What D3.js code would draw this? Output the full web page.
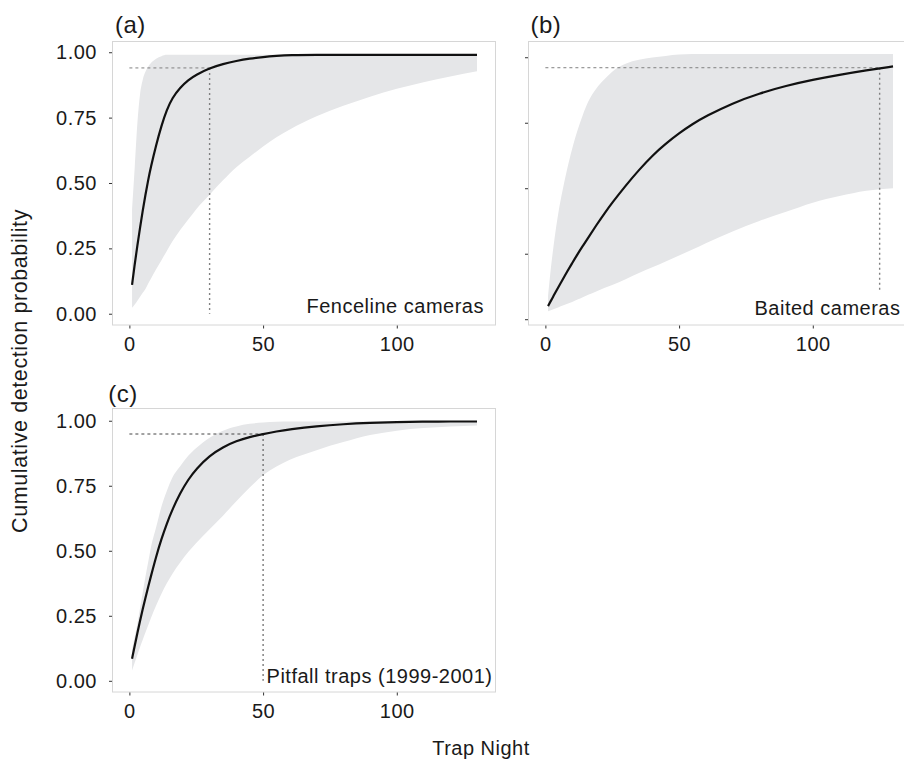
<!DOCTYPE html>
<html><head><meta charset="utf-8">
<script src="https://cdn.jsdelivr.net/npm/d3@7"></script>
<style>
body{margin:0;background:#fff}
svg{display:block;font-family:"Liberation Sans",Arial,Helvetica,sans-serif}
</style>
</head><body><div id="chart"></div>
<script>
// ---------------- data ----------------
const trapNights = [1,2,3,4,5,6,7,8,10,12,14,16,19,22,25,30,35,40,45,50,55,60,70,80,90,100,110,120,130];

const fencelineMean  = [0.11,0.19,0.262,0.33,0.395,0.455,0.51,0.56,0.645,0.72,0.78,0.825,0.865,0.894,0.914,0.939,0.955,0.967,0.976,0.982,0.986,0.989,0.99,0.99,0.99,0.99,0.99,0.99,0.99];
const fencelineLower = [0.023,0.035,0.05,0.065,0.08,0.095,0.115,0.133,0.17,0.205,0.24,0.275,0.32,0.36,0.40,0.455,0.51,0.56,0.60,0.64,0.675,0.705,0.755,0.795,0.83,0.86,0.885,0.907,0.927];
const fencelineUpper = [0.40,0.56,0.73,0.84,0.895,0.925,0.945,0.958,0.975,0.985,0.99,0.99,0.99,0.99,0.99,0.99,0.99,0.99,0.99,0.99,0.99,0.99,0.99,0.99,0.99,0.99,0.99,0.99,0.99];

const baitedMean  = [0.05,0.069,0.088,0.107,0.125,0.143,0.161,0.179,0.214,0.248,0.28,0.311,0.358,0.403,0.445,0.51,0.57,0.625,0.67,0.71,0.745,0.775,0.825,0.862,0.891,0.914,0.933,0.95,0.965];
const baitedLower = [0.03,0.034,0.038,0.042,0.046,0.05,0.054,0.058,0.066,0.075,0.084,0.093,0.106,0.119,0.131,0.153,0.176,0.198,0.22,0.243,0.266,0.29,0.335,0.375,0.41,0.445,0.47,0.49,0.50];
const baitedUpper = [0.09,0.19,0.275,0.35,0.415,0.47,0.52,0.567,0.65,0.72,0.78,0.83,0.88,0.915,0.945,0.975,0.99,0.999,1.005,1.01,1.012,1.012,1.012,1.012,1.012,1.012,1.012,1.012,1.012];

const pitfallMean  = [0.085,0.135,0.184,0.231,0.276,0.319,0.36,0.40,0.478,0.546,0.605,0.657,0.722,0.774,0.815,0.866,0.899,0.922,0.938,0.949,0.959,0.967,0.979,0.987,0.992,0.995,0.997,0.997,0.997];
const pitfallLower = [0.04,0.07,0.10,0.13,0.158,0.186,0.213,0.24,0.29,0.335,0.375,0.41,0.455,0.495,0.53,0.583,0.635,0.69,0.743,0.79,0.824,0.85,0.887,0.918,0.945,0.962,0.972,0.978,0.982];
const pitfallUpper = [0.12,0.17,0.22,0.28,0.34,0.40,0.455,0.51,0.59,0.67,0.73,0.78,0.825,0.865,0.895,0.935,0.962,0.978,0.988,0.993,0.996,0.997,0.997,0.997,0.997,0.997,0.997,0.997,0.997];

const panelTags   = ["(a)","(b)","(c)"];
const methodNames = ["Fenceline cameras","Baited cameras","Pitfall traps (1999-2001)"];
const detectionThreshold = [0.94, 0.96, 0.949];
const nightsToThreshold  = [30, 125, 50];
const xTicks = [0, 50, 100];
const yTicks = [0, 0.25, 0.5, 0.75, 1];
const yTickLabels = ["0.00","0.25","0.50","0.75","1.00"];
const xTitle = "Trap Night";
const yTitle = "Cumulative detection probability";

// ---------------- layout ----------------
const W = 904, H = 760;
const PW = 384, PH = 284.5;
const xDomain = [-6.5, 137.1];
const layout = [
  {left:112, top:41,  yDomain:[-0.045,1.043], yLabels:true,  tagX:115,   tagY:33,
   labelAnchor:"end",   labelX:132.6, labelDy:-12.5},
  {left:528, top:41,  yDomain:[-0.024,1.062], yLabels:false, tagX:530.5, tagY:33,
   labelAnchor:"end",   labelX:132.8, labelDy:-11},
  {left:112, top:408, yDomain:[-0.045,1.049], yLabels:true,  tagX:108.3, tagY:401.7,
   labelAnchor:"start", labelX:51.3,  labelDy:-9.2}
];
const series = [
  {mean:fencelineMean, lower:fencelineLower, upper:fencelineUpper},
  {mean:baitedMean,    lower:baitedLower,    upper:baitedUpper},
  {mean:pitfallMean,   lower:pitfallLower,   upper:pitfallUpper}
];

const svg = d3.select("#chart").append("svg")
  .attr("width", W).attr("height", H).attr("viewBox", `0 0 ${W} ${H}`);
svg.append("rect").attr("width", W).attr("height", H).attr("fill", "#fff");

const FS = 20, LS = "0.5px";

layout.forEach((L, i) => {
  const s = series[i];
  const rows = trapNights.map((n, k) => ({n, m:s.mean[k], lo:s.lower[k], hi:s.upper[k]}));
  const x = d3.scaleLinear().domain(xDomain).range([0, PW]);
  const y = d3.scaleLinear().domain(L.yDomain).range([PH, 0]);
  const g = svg.append("g").attr("transform", `translate(${L.left},${L.top})`);

  g.append("rect").attr("width", PW).attr("height", PH).attr("fill", "#fff");

  // band
  g.append("path").datum(rows)
    .attr("fill", "#e5e6e8")
    .attr("d", d3.area().x(d => x(d.n)).y0(d => y(d.lo)).y1(d => y(d.hi)).curve(d3.curveMonotoneX));

  // threshold guides
  const thr = detectionThreshold[i], nt = nightsToThreshold[i];
  const guideColor = i === 2 ? "#444" : "#808080";
  g.append("line")
    .attr("x1", x(0)).attr("x2", x(nt)).attr("y1", y(thr)).attr("y2", y(thr))
    .attr("stroke", guideColor).attr("stroke-width", 1).attr("stroke-dasharray", "3,3");
  g.append("line")
    .attr("x1", x(nt)).attr("x2", x(nt)).attr("y1", y(thr)).attr("y2", y(0))
    .attr("stroke", guideColor).attr("stroke-width", i === 2 ? 1 : 1.4).attr("stroke-dasharray", "2,3");

  // mean curve
  g.append("path").datum(rows)
    .attr("fill", "none").attr("stroke", "#111").attr("stroke-width", 2.2)
    .attr("d", d3.line().x(d => x(d.n)).y(d => y(d.m)).curve(d3.curveBasis));

  // method label with white box
  const lbl = g.append("text")
    .attr("x", x(L.labelX)).attr("y", PH + L.labelDy)
    .attr("text-anchor", L.labelAnchor)
    .attr("font-size", FS).attr("letter-spacing", LS).attr("fill", "#1a1a1a")
    .text(methodNames[i]);
  const bb = lbl.node().getBBox();
  g.insert("rect", function(){ return lbl.node(); })
    .attr("x", bb.x - 2).attr("y", bb.y - 5)
    .attr("width", bb.width + 4).attr("height", bb.height + 7)
    .attr("fill", "#fff");

  // border
  g.append("rect").attr("x", 0.5).attr("y", 0.5).attr("width", PW - 1).attr("height", PH - 1)
    .attr("fill", "none").attr("stroke", "#d6d6d6").attr("stroke-width", 1);

  // axes
  const xAxis = d3.axisBottom(x).tickValues(xTicks).tickSize(3).tickPadding(8).tickFormat(d3.format("d"));
  const gx = g.append("g").attr("transform", `translate(0,${PH})`).call(xAxis);
  gx.select(".domain").remove();
  gx.selectAll("line").attr("stroke", "#333");
  gx.selectAll("text").attr("font-size", FS).attr("letter-spacing", LS).attr("fill", "#1a1a1a")
    .attr("font-family", "Liberation Sans, Arial, sans-serif").attr("dy", "0.71em");

  const yAxis = d3.axisLeft(y).tickValues(yTicks).tickSize(3).tickPadding(12)
    .tickFormat((d, k) => L.yLabels ? yTickLabels[k] : "");
  const gy = g.append("g").call(yAxis);
  gy.select(".domain").remove();
  gy.selectAll("line").attr("stroke", "#333");
  gy.selectAll("text").attr("font-size", FS).attr("letter-spacing", LS).attr("fill", "#1a1a1a")
    .attr("font-family", "Liberation Sans, Arial, sans-serif");

  // panel tag
  svg.append("text").attr("x", L.tagX).attr("y", L.tagY)
    .attr("font-size", 24).attr("letter-spacing", "0.5px").attr("fill", "#1a1a1a")
    .text(panelTags[i]);
});

// axis titles
svg.append("text").attr("x", 481).attr("y", 755).attr("text-anchor", "middle")
  .attr("font-size", FS).attr("letter-spacing", LS).attr("fill", "#1a1a1a").text(xTitle);
svg.append("text").attr("transform", "translate(26.5,371) rotate(-90)").attr("text-anchor", "middle")
  .attr("font-size", 21.5).attr("letter-spacing", "0.6px").attr("fill", "#1a1a1a").text(yTitle);
</script>
</body></html>
